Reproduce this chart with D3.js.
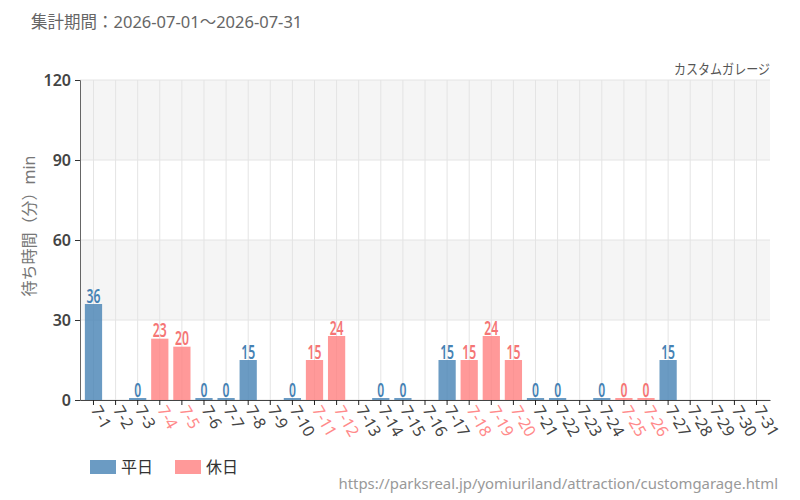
<!DOCTYPE html>
<html>
<head>
<meta charset="utf-8">
<script src="https://cdn.jsdelivr.net/npm/d3@7"></script>
<style>
  body { margin: 0; background: #fff; }
  text { font-family: "Noto Sans", "Noto Sans CJK JP", sans-serif; }
</style>
</head>
<body>
<svg></svg>
<script>
// days of July 2026, wait time (null = no data), holiday flag
var days = ['7-1','7-2','7-3','7-4','7-5','7-6','7-7','7-8','7-9','7-10',
  '7-11','7-12','7-13','7-14','7-15','7-16','7-17','7-18','7-19','7-20',
  '7-21','7-22','7-23','7-24','7-25','7-26','7-27','7-28','7-29','7-30','7-31'];
var waits = [36, null, 0, 23, 20, 0, 0, 15, null, 0,
  15, 24, null, 0, 0, null, 15, 15, 24, 15,
  0, 0, null, 0, 0, 0, 15, null, null, null, null];
var holidays = ['7-4','7-5','7-11','7-12','7-18','7-19','7-20','7-25','7-26'];
var yTicks = [0, 30, 60, 90, 120];

var width = 800, height = 500;
var margin = {left: 80, right: 30, top: 80, bottom: 100};

var blue = '#4682b4', red = '#ff7f7f';

var svg = d3.select('svg').attr('width', width).attr('height', height);

var x = d3.scaleBand().domain(days).range([margin.left, width - margin.right]).padding(0.22);
var y = d3.scaleLinear().domain([0, 120]).range([height - margin.bottom, margin.top]);

// alternating bands
var bandG = svg.append('g');
for (var i = 0; i < yTicks.length - 1; i++) {
  if (i % 2 == 1) {
    bandG.append('rect')
      .attr('x', margin.left).attr('width', width - margin.right - margin.left)
      .attr('y', y(yTicks[i + 1])).attr('height', y(yTicks[i]) - y(yTicks[i + 1]))
      .attr('fill', '#f5f5f5');
  }
}

// grid
svg.append('g').selectAll('line.v').data(days).enter().append('line')
  .attr('x1', function(d) { return x(d) + x.bandwidth() / 2; })
  .attr('x2', function(d) { return x(d) + x.bandwidth() / 2; })
  .attr('y1', y(120)).attr('y2', y(0))
  .attr('stroke', '#e4e4e4');
svg.append('g').selectAll('line.h').data(yTicks).enter().append('line')
  .attr('x1', margin.left).attr('x2', width - margin.right)
  .attr('y1', function(d) { return y(d); }).attr('y2', function(d) { return y(d); })
  .attr('stroke', '#e4e4e4');

var data = days.map(function(d, i) {
  return {day: d, v: waits[i], hol: holidays.indexOf(d) >= 0};
}).filter(function(d) { return d.v !== null; });

function barTop(d) { return Math.min(y(d.v), y(0) - 2); }

// bars
svg.append('g').selectAll('rect').data(data).enter().append('rect')
  .attr('x', function(d) { return x(d.day); })
  .attr('width', x.bandwidth())
  .attr('y', barTop)
  .attr('height', function(d) { return y(0) - barTop(d); })
  .attr('fill', function(d) { return d.hol ? red : blue; })
  .attr('opacity', 0.8);

// value labels (condensed look)
svg.append('g').selectAll('text').data(data).enter().append('text')
  .attr('transform', function(d) {
    return 'translate(' + (x(d.day) + x.bandwidth() / 2) + ',' + (barTop(d) - 1.5) + ') scale(0.64,1)';
  })
  .attr('text-anchor', 'middle')
  .style('font-size', '19px')
  .style('font-weight', '600')
  .attr('fill', function(d) { return d.hol ? '#f57575' : blue; })
  .text(function(d) { return d.v; });

// axes
var yAxis = svg.append('g').attr('transform', 'translate(' + margin.left + ',0)')
  .call(d3.axisLeft(y).tickValues(yTicks).tickSize(5).tickPadding(4));
yAxis.select('.domain').attr('stroke', '#666');
yAxis.selectAll('.tick line').attr('stroke', '#333');
yAxis.selectAll('text').style('font-size', '16px').style('font-weight', '600').attr('fill', '#444');

var xAxis = svg.append('g').attr('transform', 'translate(0,' + y(0) + ')')
  .call(d3.axisBottom(x).tickSize(5).tickSizeOuter(0));
xAxis.select('.domain').attr('stroke', '#444');
xAxis.selectAll('.tick line').attr('stroke', '#222');
xAxis.selectAll('text')
  .style('font-size', '16px')
  .attr('fill', function(d) { return holidays.indexOf(d) >= 0 ? '#ff8a8a' : '#444'; })
  .attr('text-anchor', 'start')
  .attr('y', 0)
  .attr('dy', '0.35em')
  .attr('transform', 'translate(2,7) rotate(60)');

// titles
svg.append('text').attr('x', 31).attr('y', 28)
  .style('font-size', '16.5px').attr('fill', '#666')
  .text('集計期間：2026-07-01～2026-07-31');
svg.append('text').attr('transform', 'translate(' + (width - margin.right) + ',74) scale(0.86,1)')
  .attr('text-anchor', 'end').style('font-size', '14px').attr('fill', '#555')
  .text('カスタムガレージ');
svg.append('text')
  .attr('transform', 'translate(35,226) rotate(-90)')
  .attr('text-anchor', 'middle').style('font-size', '16px').attr('fill', '#777')
  .text('待ち時間（分）min');

// legend
var legend = [{name: '平日', c: blue}, {name: '休日', c: red}];
var lg = svg.append('g').selectAll('g').data(legend).enter().append('g')
  .attr('transform', function(d, i) { return 'translate(' + (90 + i * 85) + ',460)'; });
lg.append('rect').attr('width', 26).attr('height', 14)
  .attr('fill', function(d) { return d.c; }).attr('opacity', 0.8);
lg.append('text').attr('x', 31).attr('y', 13)
  .style('font-size', '16px').attr('fill', '#333')
  .text(function(d) { return d.name; });

svg.append('text').attr('x', 778).attr('y', 489).attr('text-anchor', 'end')
  .style('font-size', '14.9px').attr('fill', '#999')
  .text('https://parksreal.jp/yomiuriland/attraction/customgarage.html');
</script>
</body>
</html>
